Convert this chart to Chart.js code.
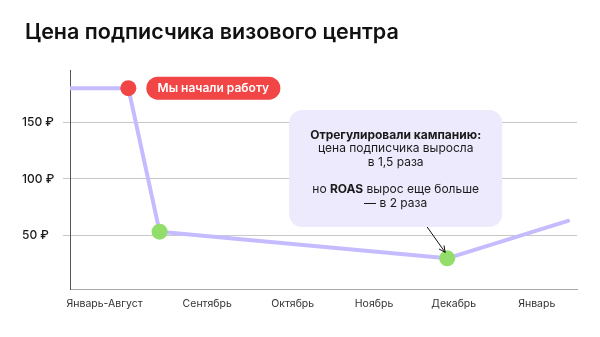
<!DOCTYPE html>
<html>
<head>
<meta charset="utf-8">
<script src="https://cdn.jsdelivr.net/npm/chart.js@4"></script>
<style>
  html, body { margin: 0; padding: 0; background: #fff; }
  #wrap { width: 600px; height: 337px; position: relative; }
</style>
</head>
<body>
<div id="wrap"><canvas id="myChart"></canvas></div>
<script>

    // timeline: 0 = end of August, 1..5 = Sep..Jan
    const xLabels = ['Январь-Август', 'Сентябрь', 'Октябрь', 'Ноябрь', 'Декабрь', 'Январь'];
    const xTickPos = [-0.25, 1, 2.04, 3.03, 4, 5.01];
    const pointX = [-0.67, 0.04, 0.42, 3.92, 5.39];
    const price = [180, 180, 53.5, 30, 63];
    const yTicks = [50, 100, 150];

    const pointRadius = [0, 8, 8, 8, 0];
    const pointColors = ['#f24545', '#f24545', '#93dd6b', '#93dd6b', '#93dd6b'];

    const FONT = 'Inter, "Noto Sans", sans-serif';

    const calloutLines = [
        [{ t: 'Отрегулировали кампанию:', b: true }],
        [{ t: 'цена подписчика выросла' }],
        [{ t: 'в 1,5 раза' }],
        [],
        [{ t: 'но ' }, { t: 'ROAS', b: true }, { t: ' вырос еще больше' }],
        [{ t: '— в 2 раза' }]
    ];

    function roundRect(ctx, x, y, w, h, r) {
        ctx.beginPath();
        ctx.moveTo(x + r, y);
        ctx.arcTo(x + w, y, x + w, y + h, r);
        ctx.arcTo(x + w, y + h, x, y + h, r);
        ctx.arcTo(x, y + h, x, y, r);
        ctx.arcTo(x, y, x + w, y, r);
        ctx.closePath();
    }

    const notes = {
        id: 'notes',
        afterDatasetsDraw(chart) {
            const ctx = chart.ctx;
            const xs = chart.scales.x, ys = chart.scales.y;
            ctx.save();

            // red pill next to the starting point
            const sx = xs.getPixelForValue(pointX[1]);
            const sy = ys.getPixelForValue(price[1]);
            const pw = 134, ph = 23;
            const px = sx + 18;
            ctx.fillStyle = '#f24545';
            roundRect(ctx, px, sy - ph / 2, pw, ph, ph / 2);
            ctx.fill();
            ctx.fillStyle = '#fff';
            ctx.font = '600 12px ' + FONT;
            ctx.textAlign = 'center';
            ctx.textBaseline = 'middle';
            ctx.fillText('Мы начали работу', px + pw / 2, sy + 0.5);

            // callout above the December point
            const dx = xs.getPixelForValue(pointX[3]);
            const dy = ys.getPixelForValue(price[3]);
            const bw = 213, bh = 117;
            const bx = dx + 55 - bw, by = 110;
            ctx.fillStyle = '#eceafc';
            roundRect(ctx, bx, by, bw, bh, 13);
            ctx.fill();

            ctx.fillStyle = '#1a1a1a';
            ctx.textBaseline = 'middle';
            ctx.textAlign = 'left';
            const cx = bx + bw / 2;
            calloutLines.forEach((runs, i) => {
                if (!runs.length) return;
                const ly = by + 25 + i * 13.6;
                let total = 0;
                runs.forEach(r => {
                    ctx.font = (r.b ? '700 ' : '400 ') + '12px ' + FONT;
                    r.w = ctx.measureText(r.t).width;
                    total += r.w;
                });
                let lx = cx - total / 2;
                runs.forEach(r => {
                    ctx.font = (r.b ? '700 ' : '400 ') + '12px ' + FONT;
                    ctx.fillText(r.t, lx, ly);
                    lx += r.w;
                });
            });

            // arrow to the point
            const ax0 = dx - 20, ay0 = by + bh;
            const ax1 = dx - 2, ay1 = dy - 6;
            ctx.strokeStyle = '#111';
            ctx.lineWidth = 1;
            ctx.beginPath();
            ctx.moveTo(ax0, ay0);
            ctx.lineTo(ax1, ay1);
            const ang = Math.atan2(ay1 - ay0, ax1 - ax0);
            ctx.moveTo(ax1 - 7 * Math.cos(ang - 0.45), ay1 - 7 * Math.sin(ang - 0.45));
            ctx.lineTo(ax1, ay1);
            ctx.lineTo(ax1 - 7 * Math.cos(ang + 0.45), ay1 - 7 * Math.sin(ang + 0.45));
            ctx.stroke();

            ctx.restore();
        },
        afterDraw(chart) {
            const ctx = chart.ctx;
            ctx.save();
            ctx.fillStyle = '#111';
            ctx.font = '600 21.5px ' + FONT;
            ctx.textAlign = 'left';
            ctx.textBaseline = 'alphabetic';
            ctx.fillText('Цена подписчика визового центра', 25, 39);
            ctx.restore();
        }
    };

    const config = {
        type: 'line',
        data: {
            datasets: [{
                label: 'Цена подписчика',
                data: pointX.map((x, i) => ({ x: x, y: price[i] })),
                borderColor: '#c5bcff',
                borderWidth: 4,
                borderCapStyle: 'round',
                borderJoinStyle: 'round',
                tension: 0,
                pointRadius: pointRadius,
                pointHoverRadius: pointRadius,
                pointBackgroundColor: pointColors,
                pointBorderWidth: 0
            }]
        },
        options: {
            responsive: true,
            maintainAspectRatio: false,
            animation: false,
            layout: {
                padding: { top: 70, left: 22, right: 23, bottom: 18 }
            },
            scales: {
                x: {
                    type: 'linear',
                    min: pointX[0],
                    max: 5.5,
                    afterBuildTicks: s => { s.ticks = xTickPos.map(v => ({ value: v })); },
                    afterFit: s => { s.height = 30; },
                    grid: { display: false },
                    border: { color: '#a8a8a8', width: 1 },
                    ticks: {
                        autoSkip: false,
                        maxRotation: 0,
                        padding: 1,
                        color: '#333',
                        font: { family: FONT, size: 10.5 },
                        callback: (v, i) => xLabels[i]
                    }
                },
                y: {
                    min: 3,
                    max: 196,
                    afterBuildTicks: s => { s.ticks = yTicks.map(v => ({ value: v })); },
                    afterFit: s => { s.width = 48; },
                    grid: { color: '#c8c8c8', tickLength: 7 },
                    border: { color: '#555', width: 1 },
                    ticks: {
                        crossAlign: 'far',
                        color: '#1a1a1a',
                        font: { family: FONT, size: 12, weight: '500' },
                        callback: v => v + ' ₽'
                    }
                }
            },
            plugins: {
                legend: { display: false },
                tooltip: { enabled: false }
            }
        },
        plugins: [notes]
    };

    const ctx = document.getElementById('myChart');

    new Chart(ctx, config);
</script>
</body>
</html>
